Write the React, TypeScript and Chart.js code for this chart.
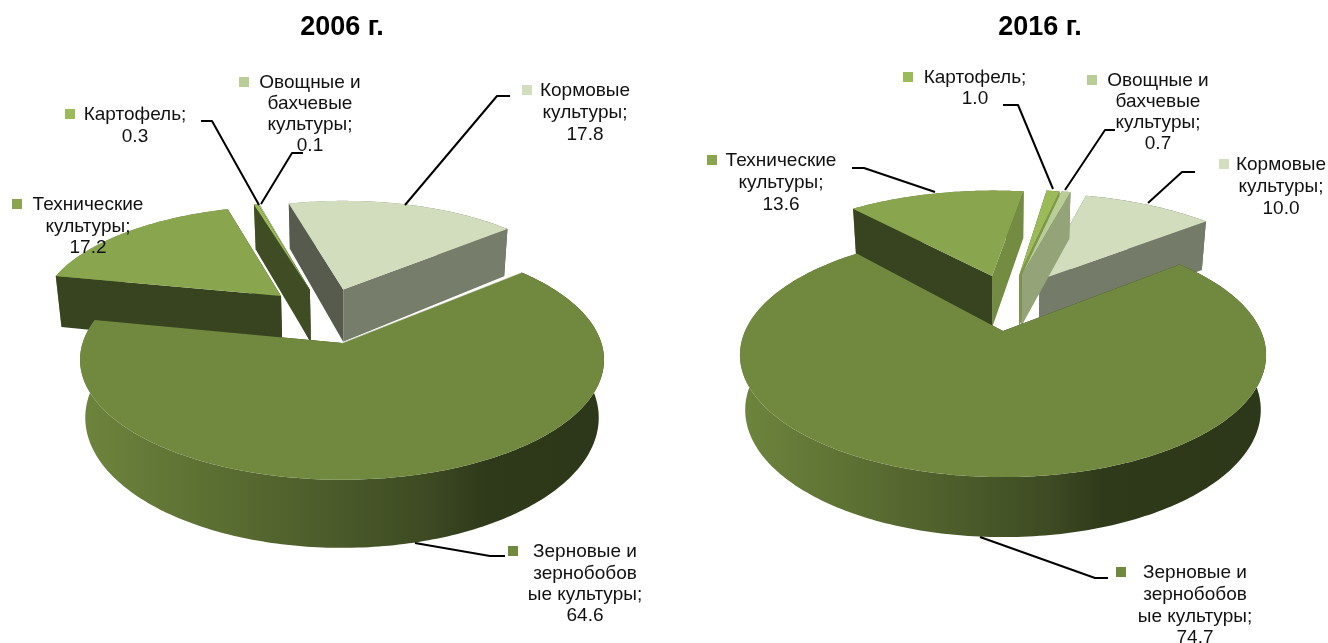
import React, { useEffect, useRef } from "react";
import { Chart, PieController, ArcElement, Title } from "chart.js";

Chart.register(PieController, ArcElement, Title);

// ---- data ----
const categories = [
  "Кормовые культуры",
  "Зерновые и зернобобовые культуры",
  "Технические культуры",
  "Картофель",
  "Овощные и бахчевые культуры",
];
const values2006 = [17.8, 64.6, 17.2, 0.3, 0.1];
const values2016 = [10.0, 74.7, 13.6, 1.0, 0.7];
const labelLines = [
  ["Кормовые", "культуры;"],
  ["Зерновые и", "зернобобов", "ые культуры;"],
  ["Технические", "культуры;"],
  ["Картофель;"],
  ["Овощные и", "бахчевые", "культуры;"],
];
const sliceColors = ["#d2ddbd", "#71893f", "#89a54e", "#9bbb59", "#b9cd96"];

// ---- layout of the two views ----
type View = {
  title: string;
  values: number[];
  originX: number;
  titlePad: { left: number; right: number };
  rotation: number;
  cx: number; cy: number; rx: number; ry: number; persp: number;
  depth: number; depthPow: number;
  darkStop: number;
  grainEdge: number;
  drawOrder: number[];
  explode: number[][];
  labels: { x: number; y: number; step: number; markerX: number }[];
  leaders: number[][][];
};

const views: View[] = [
  {
    title: "2006 г.",
    values: values2006,
    originX: 0,
    titlePad: { left: 20, right: 0 },
    rotation: -15,
    cx: 342, cy: 343, rx: 259.4, ry: 117.6, persp: 0.14,
    depth: 56.5, depthPow: 1.24,
    darkStop: 0.77,
    grainEdge: 0.7,
    drawOrder: [0, 4, 3, 2, 1],
    explode: [[0.005, -0.485, 0.97], [0, 0, 1], [-0.249, -0.423, 0.97], [-0.132, -0.481, 0.97], [-0.132, -0.481, 0.97]],
    labels: [
      { x: 585, y: 91, step: 21.7, markerX: 527 },
      { x: 585, y: 552, step: 21.4, markerX: 513 },
      { x: 88, y: 205, step: 21.5, markerX: 17 },
      { x: 135, y: 115, step: 21.5, markerX: 70 },
      { x: 310, y: 83, step: 21, markerX: 244 },
    ],
    leaders: [
      [[510, 96], [497, 96], [405, 205]],
      [[415, 543], [490, 556], [505, 556]],
      [],
      [[201, 121], [212, 121], [259, 205]],
      [[303, 153], [292, 153], [261, 204]],
    ],
  },
  {
    title: "2016 г.",
    values: values2016,
    originX: 664,
    titlePad: { left: 88, right: 0 },
    rotation: 14.4,
    cx: 1003, cy: 331, rx: 257.9, ry: 117.3, persp: 0.197,
    depth: 53.8, depthPow: 0.5,
    darkStop: 0.69,
    grainEdge: 0,
    drawOrder: [0, 3, 4, 2, 1],
    explode: [[0.155, -0.475, 1.05], [0, 0, 1], [-0.047, -0.516, 1.05], [0.07, -0.527, 1.05], [0.08, -0.527, 1.05]],
    labels: [
      { x: 1281, y: 165, step: 22, markerX: 1224 },
      { x: 1195, y: 573, step: 21.7, markerX: 1121 },
      { x: 781, y: 161, step: 21.7, markerX: 712 },
      { x: 975, y: 78, step: 21, markerX: 908 },
      { x: 1158, y: 81, step: 21, markerX: 1092 },
    ],
    leaders: [
      [[1195, 172], [1182, 172], [1148, 203]],
      [[980, 537], [1095, 578], [1108, 578]],
      [[852, 168], [864, 168], [935, 192]],
      [[1003, 105], [1018, 105], [1053, 189]],
      [[1115, 130], [1105, 130], [1065, 190]],
    ],
  },
];

const FONT = "19px 'Liberation Sans', Arial, sans-serif";

function shade(hex: string, f: number) {
  const n = parseInt(hex.slice(1), 16);
  const r = Math.round(((n >> 16) & 255) * f);
  const g = Math.round(((n >> 8) & 255) * f);
  const b = Math.round((n & 255) * f);
  return `rgb(${r},${g},${b})`;
}

function makePlugin(v: View) {
  return {
    id: "perspectivePie",
    beforeDatasetsDraw(chart: any) {
      const ctx: CanvasRenderingContext2D = chart.ctx;
      const meta = chart.getDatasetMeta(0);
      const colors = chart.data.datasets[0].backgroundColor as string[];

      const project = (u: number, v0: number, lower: boolean) => {
        const s = 1 / (1 - v.persp * v0);
        let x = v.cx + v.rx * u * s;
        let y = v.cy + v.ry * v0 * s;
        if (lower) {
          x = v.cx + (x - v.cx) * 0.98;
          y += v.depth * Math.pow(s, v.depthPow);
        }
        return [x, y];
      };

      const poly = (pts: number[][]) => {
        ctx.beginPath();
        pts.forEach((p, i) => (i ? ctx.lineTo(p[0], p[1]) : ctx.moveTo(p[0], p[1])));
        ctx.closePath();
      };

      ctx.save();
      ctx.translate(-v.originX, 0);
      ctx.lineJoin = "round";

      for (const i of v.drawOrder) {
        const el = meta.data[i];
        const [du, dv, rs] = v.explode[i];
        const a0 = el.startAngle as number;
        const a1 = el.endAngle as number;
        const steps = Math.max(2, Math.ceil(((a1 - a0) * 180) / Math.PI));
        const rim: number[][] = [];
        for (let k = 0; k <= steps; k++) {
          const t = a0 + ((a1 - a0) * k) / steps;
          rim.push([rs * Math.cos(t) + du, rs * Math.sin(t) + dv]);
        }
        const top = rim.map((p) => project(p[0], p[1], false));
        const low = rim.map((p) => project(p[0], p[1], true));
        const tipTop = project(du, dv, false);
        const tipLow = project(du, dv, true);
        const base = colors[i];

        // rim wall
        const grad = ctx.createLinearGradient(v.cx - v.rx * 1.02, 0, v.cx + v.rx * 1.02, 0);
        grad.addColorStop(0, shade(base, 0.97));
        grad.addColorStop(v.darkStop * 0.45, shade(base, 0.75));
        grad.addColorStop(v.darkStop * 0.85, shade(base, 0.55));
        grad.addColorStop(v.darkStop, shade(base, 0.42));
        grad.addColorStop(1, shade(base, 0.4));
        ctx.fillStyle = grad;
        poly([...top, ...low.slice().reverse()]);
        ctx.fill();

        // cut faces: the one turned away from the viewer goes first
        const endDeg = (((a1 + Math.PI / 2) * 180) / Math.PI + 360) % 360;
        const endFactor = endDeg < 180 ? Math.max(0.5, 0.9 - 0.0068 * endDeg) : 0.4;
        const startFace = () => {
          ctx.fillStyle = shade(base, 0.41);
          poly([tipTop, top[0], low[0], tipLow]);
          ctx.fill();
        };
        const endFace = () => {
          ctx.fillStyle = shade(base, endFactor);
          poly([tipTop, top[top.length - 1], low[low.length - 1], tipLow]);
          ctx.fill();
        };
        const midAngle = (a0 + a1) / 2;
        if (Math.cos(midAngle) > 0) {
          startFace();
          endFace();
        } else {
          endFace();
          startFace();
        }

        // top face
        ctx.fillStyle = base;
        poly([tipTop, ...top]);
        ctx.fill();
        if (i === 1 && v.grainEdge > 0) {
          ctx.strokeStyle = "#ffffff";
          ctx.lineWidth = v.grainEdge;
          ctx.beginPath();
          ctx.moveTo(top[0][0], top[0][1]);
          ctx.lineTo(tipTop[0], tipTop[1]);
          ctx.stroke();
        }
      }

      // leader lines
      ctx.strokeStyle = "#000000";
      ctx.lineWidth = 2;
      for (const line of v.leaders) {
        if (!line.length) continue;
        ctx.beginPath();
        line.forEach((p, k) => (k ? ctx.lineTo(p[0], p[1]) : ctx.moveTo(p[0], p[1])));
        ctx.stroke();
      }

      // data labels
      ctx.font = FONT;
      ctx.textAlign = "center";
      ctx.textBaseline = "middle";
      v.labels.forEach((lab, i) => {
        const lines = [...labelLines[i], v.values[i].toFixed(1)];
        ctx.fillStyle = "#111111";
        lines.forEach((t, k) => ctx.fillText(t, lab.x, lab.y + k * lab.step));
        ctx.fillStyle = colors[i];
        ctx.fillRect(lab.markerX - 5, lab.y - 6, 10, 10);
      });
      ctx.restore();
      return false;
    },
  };
}

function PieView({ view }: { view: View }) {
  const ref = useRef<HTMLCanvasElement>(null);
  useEffect(() => {
    const chart = new Chart(ref.current!, {
      type: "pie",
      data: {
        labels: categories,
        datasets: [
          {
            data: view.values,
            backgroundColor: sliceColors,
            borderWidth: 0,
          },
        ],
      },
      options: {
        responsive: false,
        animation: false,
        devicePixelRatio: 1,
        rotation: view.rotation,
        layout: { padding: view.titlePad },
        plugins: {
          legend: { display: false },
          tooltip: { enabled: false },
          title: {
            display: true,
            text: view.title,
            color: "#000000",
            font: { family: "'Liberation Sans', Arial, sans-serif", size: 27, weight: "bold" },
            padding: { top: 11, bottom: 8 },
          },
        },
      },
      plugins: [makePlugin(view)],
    } as any);
    return () => chart.destroy();
  }, [view]);
  return (
    <canvas
      ref={ref}
      width={664}
      height={643}
      style={{ position: "absolute", left: view.originX, top: 0, display: "block" }}
    />
  );
}

export default function App() {
  return (
    <div style={{ position: "fixed", left: 0, top: 0, width: 1328, height: 643, overflow: "hidden", background: "#ffffff" }}>
      {views.map((v) => (
        <PieView key={v.title} view={v} />
      ))}
    </div>
  );
}
